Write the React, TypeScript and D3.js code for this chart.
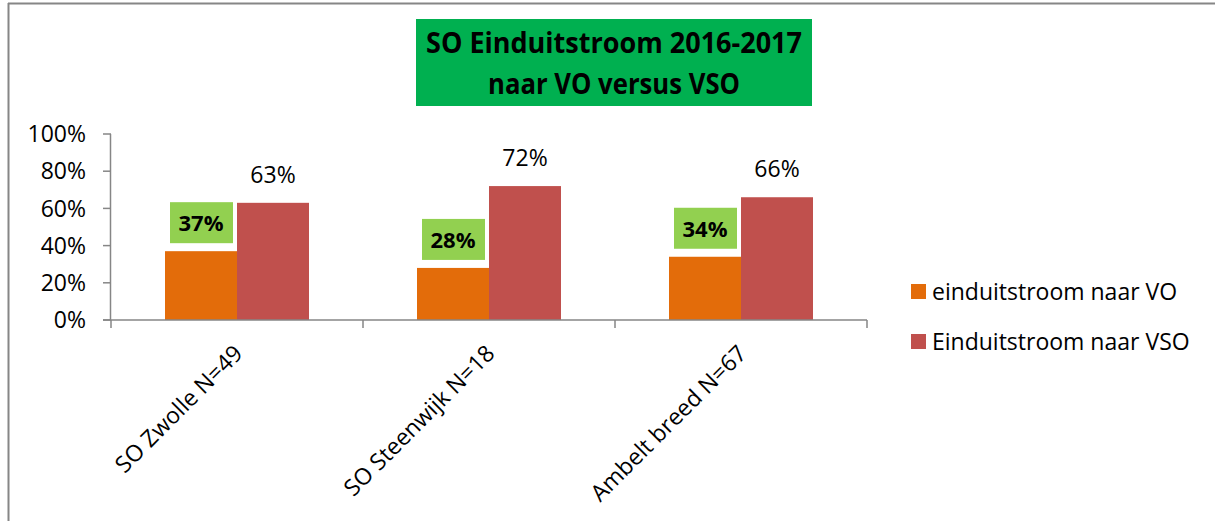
import React from "react";
import * as d3 from "d3";

const categories = ["SO Zwolle N=49", "SO Steenwijk N=18", "Ambelt breed N=67"];
const seriesNames = ["einduitstroom naar VO", "Einduitstroom naar VSO"];
const voValues = [0.37, 0.28, 0.34];
const vsoValues = [0.63, 0.72, 0.66];
const yTicks = [0, 0.2, 0.4, 0.6, 0.8, 1.0];
const titleLines = ["SO Einduitstroom 2016-2017", "naar VO versus VSO"];

const W = 1215;
const H = 521;
const FONT = "'Open Sans', 'Noto Sans', sans-serif";
const ORANGE = "#E36C0A";
const RED = "#C0504D";
const LABEL_GREEN = "#92D050";
const TITLE_GREEN = "#00B050";
const AXIS = "#868686";

export default function App() {
  const x0 = d3.scaleBand<string>().domain(categories).range([111, 867]).paddingInner(0).paddingOuter(0);
  const x1 = d3.scaleBand<string>().domain(seriesNames).range([0, x0.bandwidth()]).paddingInner(0).paddingOuter(0.75);
  const y = d3.scaleLinear().domain([0, 1]).range([320, 134]);
  const fmt = d3.format(".0%");
  const color = d3.scaleOrdinal<string, string>().domain(seriesNames).range([ORANGE, RED]);
  const series = [voValues, vsoValues];

  return (
    <svg width={W} height={H} style={{ position: "absolute", left: 0, top: 0 }} fontFamily={FONT}>
      <rect x={0} y={0} width={W} height={H} fill="#fff" />
      {/* outer border */}
      <line x1={8} x2={W} y1={3.5} y2={3.5} stroke={AXIS} strokeWidth={2} />
      <line x1={8.5} x2={8.5} y1={3} y2={H} stroke={AXIS} strokeWidth={2} />

      {/* title */}
      <rect x={416} y={19} width={396} height={87} fill={TITLE_GREEN} />
      {titleLines.map((t, i) => (
        <text key={t} x={614} y={53 + i * 41} textAnchor="middle" fontSize={29} fontWeight={700} fill="#000"
          textLength={i === 0 ? 376 : 252} lengthAdjust="spacingAndGlyphs">
          {t}
        </text>
      ))}

      {/* bars */}
      {categories.map((c, ci) =>
        seriesNames.map((s, si) => {
          const v = series[si][ci];
          const bx = (x0(c) as number) + (x1(s) as number);
          return (
            <rect key={c + s} x={bx} y={y(v)} width={x1.bandwidth()} height={y(0) - y(v)} fill={color(s)} />
          );
        })
      )}

      {/* y axis */}
      <line x1={110.5} x2={110.5} y1={y(1)} y2={y(0)} stroke={AXIS} strokeWidth={1.5} />
      {yTicks.map((t) => (
        <g key={t}>
          <line x1={103} x2={111} y1={y(t)} y2={y(t)} stroke={AXIS} strokeWidth={1.5} />
          <text x={86} y={y(t)} dy="0.36em" textAnchor="end" fontSize={23} fill="#000">
            {fmt(t)}
          </text>
        </g>
      ))}

      {/* x axis */}
      <line x1={103} x2={867} y1={320} y2={320} stroke={AXIS} strokeWidth={1.5} />
      {[...categories.map((c) => x0(c) as number), 867].map((tx, i) => (
        <line key={i} x1={tx} x2={tx} y1={320} y2={328} stroke={AXIS} strokeWidth={1.5} />
      ))}

      {/* category labels */}
      {categories.map((c) => {
        const cx = (x0(c) as number) + x0.bandwidth() / 2;
        return (
          <text key={c} transform={`translate(${cx + 7},${355}) rotate(-45)`} textAnchor="end" fontSize={23} fill="#000">
            {c}
          </text>
        );
      })}

      {/* VO labels (green boxes) */}
      {categories.map((c, ci) => {
        const v = voValues[ci];
        const cx = (x0(c) as number) + (x1(seriesNames[0]) as number) + x1.bandwidth() / 2;
        const top = y(v);
        return (
          <g key={c + "lbl"}>
            <rect x={cx - 31} y={top - 49} width={63} height={41} fill={LABEL_GREEN} />
            <text x={cx} y={top - 28} dy="0.36em" textAnchor="middle" fontSize={22} fontWeight={700} fill="#000">
              {fmt(v)}
            </text>
          </g>
        );
      })}

      {/* VSO labels */}
      {categories.map((c, ci) => {
        const v = vsoValues[ci];
        const cx = (x0(c) as number) + (x1(seriesNames[1]) as number) + x1.bandwidth() / 2;
        return (
          <text key={c + "lbl2"} x={cx} y={y(v) - 20} textAnchor="middle" fontSize={23} fill="#000">
            {fmt(v)}
          </text>
        );
      })}

      {/* legend */}
      {seriesNames.map((s, i) => (
        <g key={s} transform={`translate(911,${284 + i * 50})`}>
          <rect x={0} y={0} width={15} height={15} fill={color(s)} />
          <text x={21} y={7.5} dy="0.36em" fontSize={23} fill="#000">
            {s}
          </text>
        </g>
      ))}
    </svg>
  );
}
